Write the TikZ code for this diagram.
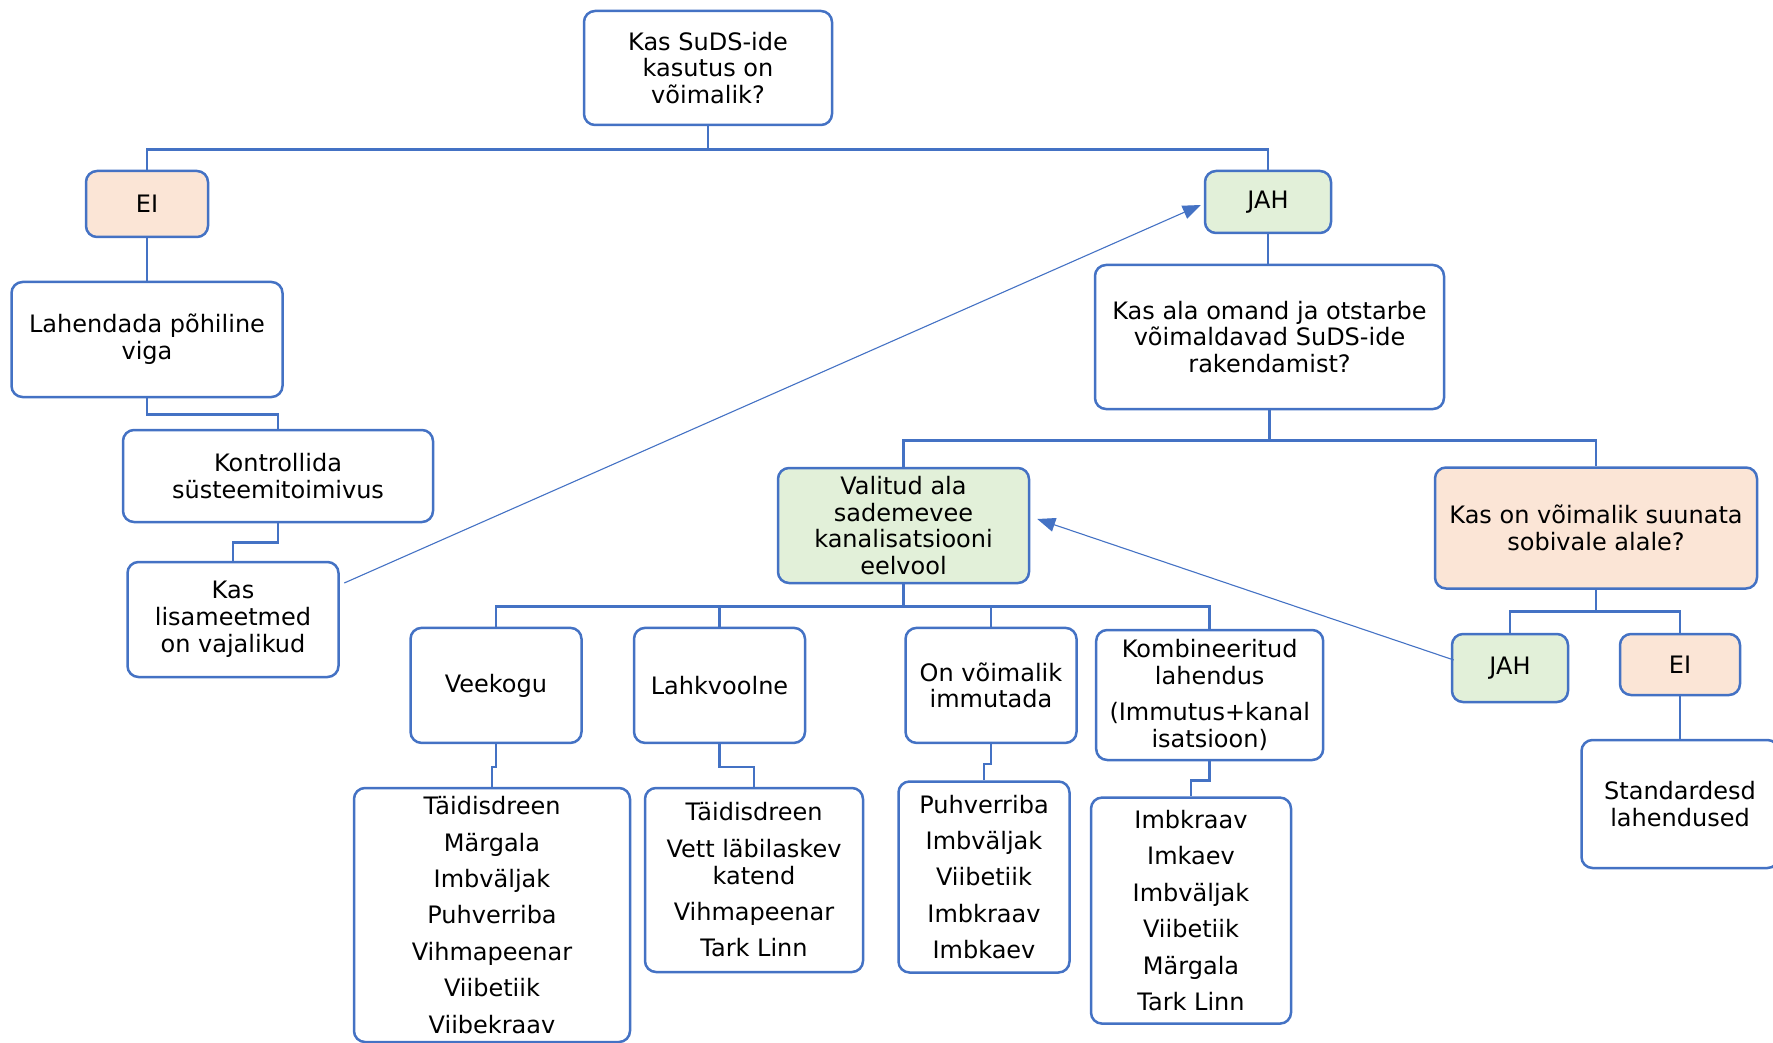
\documentclass[tikz,border=0pt]{standalone}
\usepackage{fontspec}
\setmainfont{DejaVu Sans}
\usetikzlibrary{arrows.meta}
\definecolor{bl}{HTML}{4472C4}
\definecolor{peach}{HTML}{FBE5D6}
\definecolor{lgreen}{HTML}{E2F0D9}
\tikzset{
  box/.style={draw=bl, line width=1.25pt, rounded corners=5.5pt, fill=white, align=center,
    inner sep=1pt, font=\fontsize{12}{13.4}\selectfont},
  conn/.style={draw=bl, line width=1.3pt},
  thinarrow/.style={draw=bl, line width=0.55pt, -{Triangle[length=9pt,width=7pt]}},
}
\begin{document}
\begin{tikzpicture}[x=0.5pt, y=-0.5pt]
\useasboundingbox (0,0) rectangle (1773,1043);
% top level
\node[box, minimum width=124pt, minimum height=57pt] (top) at (708,68) {Kas SuDS-ide\\kasutus on\\võimalik?};
\node[box, fill=peach, minimum width=61pt, minimum height=33pt] (ei1) at (147,204) {EI};
\node[box, fill=lgreen, minimum width=63pt, minimum height=31pt] (jah1) at (1268,202) {JAH};
% left branch
\node[box, minimum width=135.5pt, minimum height=57.5pt] (lah) at (147,339.5) {Lahendada põhiline\\viga};
\node[box, minimum width=155pt, minimum height=46pt] (kon) at (278,476) {Kontrollida\\süsteemitoimivus};
\node[box, minimum width=105.5pt, minimum height=57.5pt] (lisa) at (233,619.5) {Kas\\lisameetmed\\on vajalikud};
% right branch
\node[box, minimum width=174.5pt, minimum height=72pt] (kasala) at (1269.5,337) {Kas ala omand ja otstarbe\\võimaldavad SuDS-ide\\rakendamist?};
\node[box, fill=lgreen, minimum width=125.5pt, minimum height=57.5pt] (val) at (903.5,525.5) {Valitud ala\\sademevee\\kanalisatsiooni\\eelvool};
\node[box, fill=peach, minimum width=161pt, minimum height=60.5pt] (kason) at (1596,528) {Kas on võimalik suunata\\sobivale alale?};
% children of Valitud
\node[box, minimum width=85.5pt, minimum height=57.5pt] (vee) at (496,685.4) {Veekogu};
\node[box, minimum width=85.5pt, minimum height=57.5pt] (lahk) at (719.5,685.4) {Lahkvoolne};
\node[box, minimum width=85.5pt, minimum height=57.5pt] (onv) at (991,685.4) {On võimalik\\immutada};
\node[box, minimum width=113.5pt, minimum height=65pt] (komb) at (1209.7,695) {Kombineeritud\\lahendus\\[4.5pt](Immutus+kanal\\isatsioon)};
% lists
\node[box, minimum width=138pt, minimum height=127pt] (veeL) at (492,915) {Täidisdreen\\[4.8pt]Märgala\\[4.8pt]Imbväljak\\[4.8pt]Puhverriba\\[4.8pt]Vihmapeenar\\[4.8pt]Viibetiik\\[4.8pt]Viibekraav};
\node[box, minimum width=109pt, minimum height=92pt] (lahkL) at (754,880) {Täidisdreen\\[4.8pt]Vett läbilaskev\\katend\\[4.8pt]Vihmapeenar\\[4.8pt]Tark Linn};
\node[box, minimum width=85.5pt, minimum height=95.5pt] (onvL) at (984,877) {Puhverriba\\[4.8pt]Imbväljak\\[4.8pt]Viibetiik\\[4.8pt]Imbkraav\\[4.8pt]Imbkaev};
\node[box, minimum width=100pt, minimum height=113pt] (kombL) at (1191,910.6) {Imbkraav\\[4.8pt]Imkaev\\[4.8pt]Imbväljak\\[4.8pt]Viibetiik\\[4.8pt]Märgala\\[4.8pt]Tark Linn};
% Kas on branch
\node[box, fill=lgreen, minimum width=58pt, minimum height=34pt] (jah2) at (1510,668) {JAH};
\node[box, fill=peach, minimum width=60pt, minimum height=30.5pt] (ei2) at (1680,664.5) {EI};
\node[box, minimum width=98.5pt, minimum height=64pt] (std) at (1680,804) {Standardesd\\lahendused};
% connectors
\draw[conn] (top.south) -- ++(0,23) -| (ei1.north);
\draw[conn] (top.south) -- ++(0,23) -| (jah1.north);
\draw[conn] (ei1.south) -- (lah.north);
\draw[conn] (lah.south) -- ++(0,16) -| (kon.north);
\draw[conn] (kon.south) -- ++(0,19) -| (lisa.north);
\draw[conn] (jah1.south) -- (jah1.south |- kasala.north);
\draw[conn] (kasala.south) -- ++(0,30) -| (val.north);
\draw[conn] (kasala.south) -- ++(0,30) -| (kason.north);
\draw[conn] (val.south) -- ++(0,22.5) -| (vee.north);
\draw[conn] (val.south) -- ++(0,22.5) -| (lahk.north);
\draw[conn] (val.south) -- ++(0,22.5) -| (onv.north);
\draw[conn] (val.south) -- ++(0,22.5) -| (komb.north);
\draw[conn] (vee.south) -- ++(0,23) -| (veeL.north);
\draw[conn] (lahk.south) -- ++(0,23) -| (lahkL.north);
\draw[conn] (onv.south) -- ++(0,20) -| (onvL.north);
\draw[conn] (komb.south) -- ++(0,19) -| (kombL.north);
\draw[conn] (kason.south) -- ++(0,22) -| (jah2.north);
\draw[conn] (kason.south) -- ++(0,22) -| (ei2.north);
\draw[conn] (ei2.south) -- (std.north);
% arrows
\draw[thinarrow] ([shift={(4.5,-36.5)}]lisa.east) -- ([shift={(-3,3)}]jah1.west);
\draw[thinarrow] ([shift={(3,-8)}]jah2.west) -- ([shift={(7,-6.5)}]val.east);
\end{tikzpicture}
\end{document}
